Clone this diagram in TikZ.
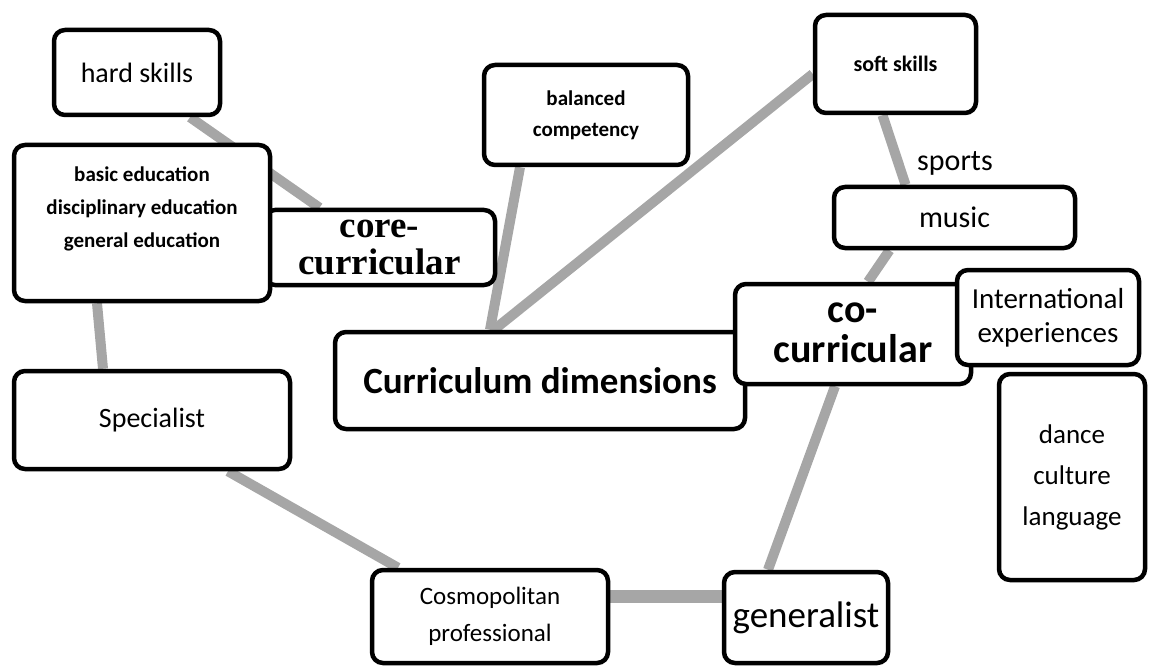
\documentclass[tikz,border=0pt]{standalone}
\usepackage{fontspec}
\setmainfont{Carlito}
\newfontfamily\corefont{Liberation Serif}
\usetikzlibrary{positioning, backgrounds}
\definecolor{linkgray}{RGB}{166,166,166}
\newcommand{\fsize}[2]{\fontsize{#1}{#2}\selectfont}

\begin{document}
\begin{tikzpicture}[
        x = 1pt, y = -1pt,
        every node/.style = {inner sep = 0pt, align = center},
        box/.style = {draw = black, line width = 4.5pt, rounded corners = 11pt, fill = white},
        link/.style = {draw = linkgray, line width = 10pt}
    ]

    \useasboundingbox (0,0) rectangle (1155,668);

    % left side
    \node[box, minimum width = 166, minimum height = 85, font = \fsize{28}{34}]
        (hard) at (137,72.5) {hard skills};
    \node[box, minimum width = 231, minimum height = 75, font = \corefont\bfseries\fsize{37}{37}]
        (core) at (379.5,247.5) {core-\\curricular};
    \node[box, minimum width = 256, minimum height = 156, text depth = 31pt, font = \bfseries\fsize{21}{33}]
        (basic) at (142,223) {basic education\\disciplinary education\\general education};
    \node[box, minimum width = 276, minimum height = 98, font = \fsize{28}{34}]
        (spec) at (152,420) {Specialist};

    % top
    \node[box, minimum width = 204, minimum height = 100, font = \bfseries\fsize{21}{31}]
        (balanced) at (586,115) {balanced\\competency};
    \node[box, minimum width = 161, minimum height = 98, font = \bfseries\fsize{22}{26}]
        (soft) at (895.5,64) {soft skills};
    \node[box, minimum width = 241, minimum height = 61, font = \fsize{30}{36}]
        (music) at (954.5,217.5) {music};
    \node[font = \fsize{30}{36}] (sports) at (955,163) {sports};

    % middle
    \node[box, minimum width = 410, minimum height = 97, font = \bfseries\fsize{37}{44}]
        (cdims) at (540,380.5) {Curriculum dimensions};
    \node[box, minimum width = 236, minimum height = 100, text depth = 2pt, font = \bfseries\fsize{40}{40}]
        (cocur) at (853,334) {co-\\curricular};
    \node[box, minimum width = 182, minimum height = 95, font = \fsize{29}{34}]
        (intl) at (1048,317.5) {International\\experiences};
    \node[box, minimum width = 146, minimum height = 206, font = \fsize{27}{41}]
        (dance) at (1072,477) {dance\\culture\\language};

    % bottom
    \node[box, minimum width = 236, minimum height = 93, font = \fsize{25}{37}]
        (cosmo) at (490,616.5) {Cosmopolitan\\professional};
    \node[box, minimum width = 164, minimum height = 91, font = \fsize{37}{44}]
        (gen) at (806,617.5) {generalist};

    % connectors behind the boxes
    \begin{scope}[on background layer, every edge/.style = {link}]
        \path
            ([xshift = 53pt]hard.south)   edge ([xshift = -60pt]core.north)
            ([xshift = -45pt]basic.south) edge ([xshift = -49pt]spec.north)
            ([xshift = 76pt]spec.south)   edge ([xshift = -92pt]cosmo.north)
            ([xshift = -38pt]gen.north)   edge ([xshift = -18pt]cocur.south)
            ([xshift = -50pt]cdims.north) edge ([xshift = -66pt]balanced.south)
            ([xshift = -46pt]cdims.north) edge ([yshift = -10pt]soft.west)
            ([xshift = -13pt]soft.south)  edge ([xshift = -49pt]music.north)
            ([xshift = -65pt]music.south) edge ([xshift = 15pt]cocur.north);
        \path
            ([yshift = 20pt]cosmo.east) edge[line width = 13pt] ([yshift = 21pt]gen.west);
    \end{scope}

\end{tikzpicture}
\end{document}
